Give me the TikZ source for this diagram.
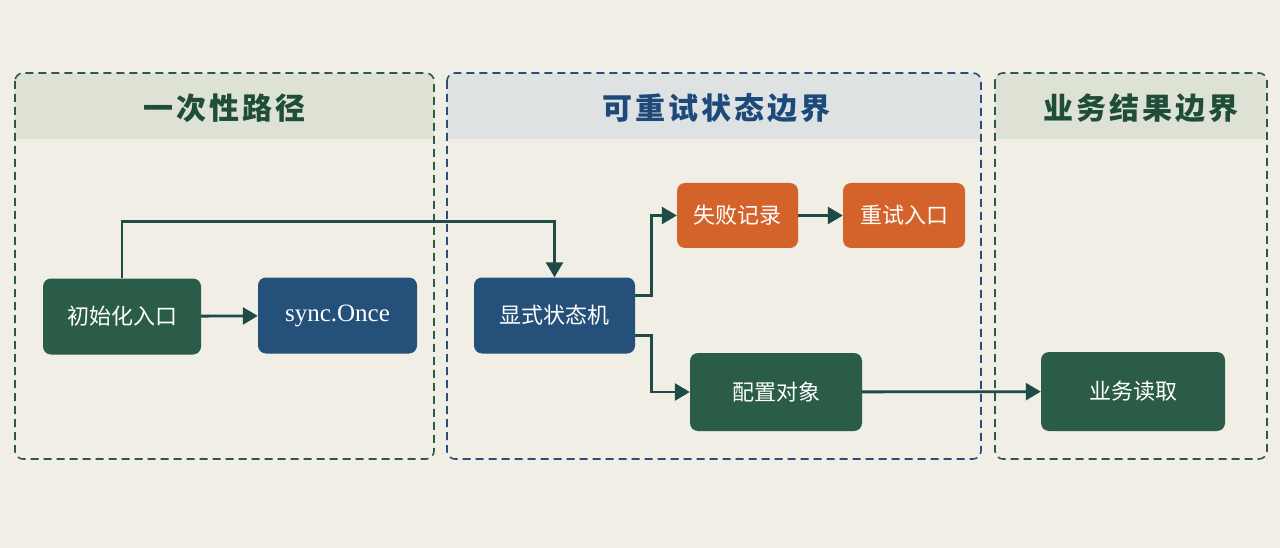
\documentclass[tikz,border=0pt]{standalone}
\usepackage{fontspec}
\setmainfont{Liberation Serif}
\newfontfamily\cjk{Noto Sans CJK SC}
\usetikzlibrary{arrows.meta,calc}
\definecolor{paper}{HTML}{F1EEE6}
\definecolor{gnode}{HTML}{2B5C47}
\definecolor{bnode}{HTML}{24507A}
\definecolor{onode}{HTML}{D4632B}
\definecolor{conn}{HTML}{1F4B47}
\definecolor{gtitle}{HTML}{1F4D38}
\definecolor{btitle}{HTML}{1D4A7A}
\definecolor{gband}{HTML}{DDE2D5}
\definecolor{bband}{HTML}{DEE2E3}
\definecolor{gdash}{HTML}{2D5A45}
\definecolor{bdash}{HTML}{2A4F7A}
\tikzset{
  box/.style={rounded corners=8pt, minimum height=76pt, text=white, inner sep=0pt,
    font=\cjk\fontsize{22}{26}\selectfont},
  gbox/.style={box, fill=gnode},
  bbox/.style={box, fill=bnode},
  obox/.style={box, fill=onode, minimum height=65pt},
  arr/.style={draw=conn, line width=2.8pt, -{Triangle[length=15pt,width=17pt]}},
  grp/.style={dashed, line width=1.6pt, dash pattern=on 8pt off 5pt, rounded corners=8pt},
  ttl/.style={font=\cjk\bfseries\fontsize{30}{34}\selectfont\addfontfeature{LetterSpace=10}}
}
\begin{document}
\begin{tikzpicture}[x=1pt,y=-1pt]
\useasboundingbox (0,0) rectangle (1280,548);
\fill[paper] (0,0) rectangle (1280,548);

% group backgrounds (header bands)
\begin{scope}
\clip[rounded corners=8pt] (15,73) rectangle (434,459);
\fill[gband] (15,73) rectangle (434,139);
\end{scope}
\begin{scope}
\clip[rounded corners=8pt] (447,73) rectangle (981,459);
\fill[bband] (447,73) rectangle (981,139);
\end{scope}
\begin{scope}
\clip[rounded corners=8pt] (995,73) rectangle (1267,459);
\fill[gband] (995,73) rectangle (1267,139);
\end{scope}
\draw[grp, gdash] (15,73) rectangle (434,459);
\draw[grp, bdash] (447,73) rectangle (981,459);
\draw[grp, gdash] (995,73) rectangle (1267,459);

\node[ttl, text=gtitle] (t1) at (224,108) {一次性路径};
\node[ttl, text=btitle] (t2) at (716,108) {可重试状态边界};
\node[ttl, text=gtitle] (t3) at (1141,108) {业务结果边界};

% nodes
\node[gbox, minimum width=158pt] (init) at (122,316.5) {初始化入口};
\node[bbox, minimum width=159pt, font=\fontsize{25}{28}\selectfont] (once) at (337.5,315.5) {sync.Once};
\node[bbox, minimum width=161pt] (sm) at (554.5,315.5) {显式状态机};
\node[obox, minimum width=121pt] (fail) at (737.5,215.5) {失败记录};
\node[obox, minimum width=122pt] (retry) at (904,215.5) {重试入口};
\node[gbox, minimum width=172pt, minimum height=78pt] (cfg) at (776,392) {配置对象};
\node[gbox, minimum width=184pt, minimum height=79pt] (read) at (1133,391.5) {业务读取};

% connectors
\draw[arr] (init) -- (once);
\draw[arr] (init.north) -- ++(0,-57) -| (sm.north);
\draw[arr] ([yshift=20pt]sm.east) -- ++(16,0) |- (fail.west);
\draw[arr] (fail) -- (retry);
\draw[arr] ([yshift=-20pt]sm.east) -- ++(16,0) |- (cfg.west);
\draw[arr] (cfg) -- (read);
\end{tikzpicture}
\end{document}
